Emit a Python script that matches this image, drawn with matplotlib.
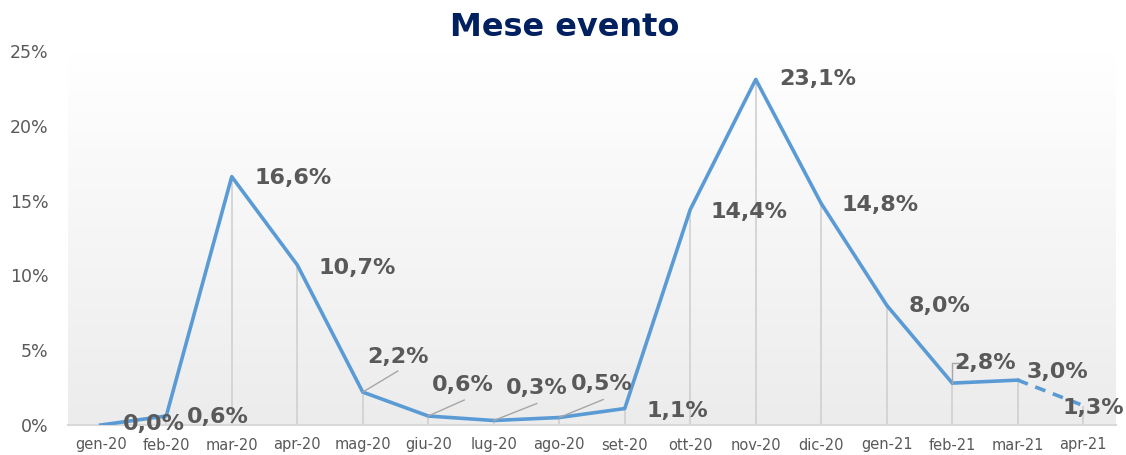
import numpy as np
import matplotlib.pyplot as plt
from matplotlib.transforms import ScaledTranslation
from matplotlib.colors import LinearSegmentedColormap

# data
months = ["gen-20", "feb-20", "mar-20", "apr-20", "mag-20", "giu-20", "lug-20", "ago-20",
          "set-20", "ott-20", "nov-20", "dic-20", "gen-21", "feb-21", "mar-21", "apr-21"]
values = [0.0, 0.6, 16.6, 10.7, 2.2, 0.6, 0.3, 0.5, 1.1, 14.4, 23.1, 14.8, 8.0, 2.8, 3.0, 1.3]

# label offsets in pixels (dx, dy) from each point
label_off = [(53, 1), (52, -1), (61, -1), (60, -3), (35, 35), (35, 31), (43, 33), (43, 34),
             (53, -2), (59, -2), (62, 0), (59, -1), (53, -1), (33, 20), (40, 8), (10, -2)]
# leader lines (pixel vertices relative to point)
leaders = {4: [(0, 0), (35, 21)], 5: [(0, 0), (36, 16)], 6: [(0, 0), (43, 17)],
           7: [(0, 0), (44, 18)], 13: [(0, 0), (0, 20), (12, 20)]}

blue = "#5B9BD5"
grey = "#595959"

fig = plt.figure(figsize=(11.26, 4.55), dpi=100)
ax = fig.add_axes([68 / 1126, 30 / 455, 1048 / 1126, 374 / 455])

# gradient background (white at top, light grey at bottom)
cmap = LinearSegmentedColormap.from_list("bg", ["#ffffff", "#ececec"])
grad = np.linspace(0, 1, 256).reshape(-1, 1)
ax.imshow(grad, cmap=cmap, aspect="auto", extent=[0, 1, 0, 1],
          transform=ax.transAxes, zorder=0)

x = np.arange(len(months))
ax.set_xlim(-0.5, len(months) - 0.5)
ax.set_ylim(0, 25)

# drop lines
ax.vlines(x, 0, values, color="#d0d0d0", linewidth=1.2, zorder=1)

# line, last segment dashed
ax.plot(x[:-1], values[:-1], color=blue, linewidth=2.6, solid_joinstyle="round", zorder=3)
ax.plot(x[-2:], values[-2:], color=blue, linewidth=2.6, linestyle=(0, (3, 2.2)), zorder=3)

# data labels + leader lines
for i, v in enumerate(values):
    dx, dy = label_off[i]
    tr = ax.transData + ScaledTranslation(dx / 100, dy / 100, fig.dpi_scale_trans)
    ax.text(x[i], v, ("%.1f%%" % v).replace(".", ","), transform=tr, ha="center", va="center",
            fontsize=16, fontweight="bold", color=grey, zorder=5)
    if i in leaders:
        lx = [px / 100 for px, py in leaders[i]]
        ly = [py / 100 for px, py in leaders[i]]
        tr2 = fig.dpi_scale_trans + ScaledTranslation(x[i], v, ax.transData)
        ax.plot(lx, ly, color="#a6a6a6", linewidth=1.0, transform=tr2, zorder=4)

# axes styling
for s in ["top", "right", "left"]:
    ax.spines[s].set_visible(False)
ax.spines["bottom"].set_color("#d9d9d9")
ax.spines["bottom"].set_linewidth(1.5)
ax.set_xticks(x)
ax.set_xticklabels(months)
ax.set_yticks([0, 5, 10, 15, 20, 25])
ax.set_yticklabels(["0%", "5%", "10%", "15%", "20%", "25%"])
ax.tick_params(axis="x", length=0, pad=9, labelsize=10.5, labelcolor=grey)
ax.tick_params(axis="y", length=0, pad=14, labelsize=12.5, labelcolor=grey)

fig.text(565 / 1126, 1 - 27 / 455, "Mese evento", ha="center", va="center",
         fontsize=23, fontweight="bold", color="#002060")

fig.savefig("out.png", dpi=100)
